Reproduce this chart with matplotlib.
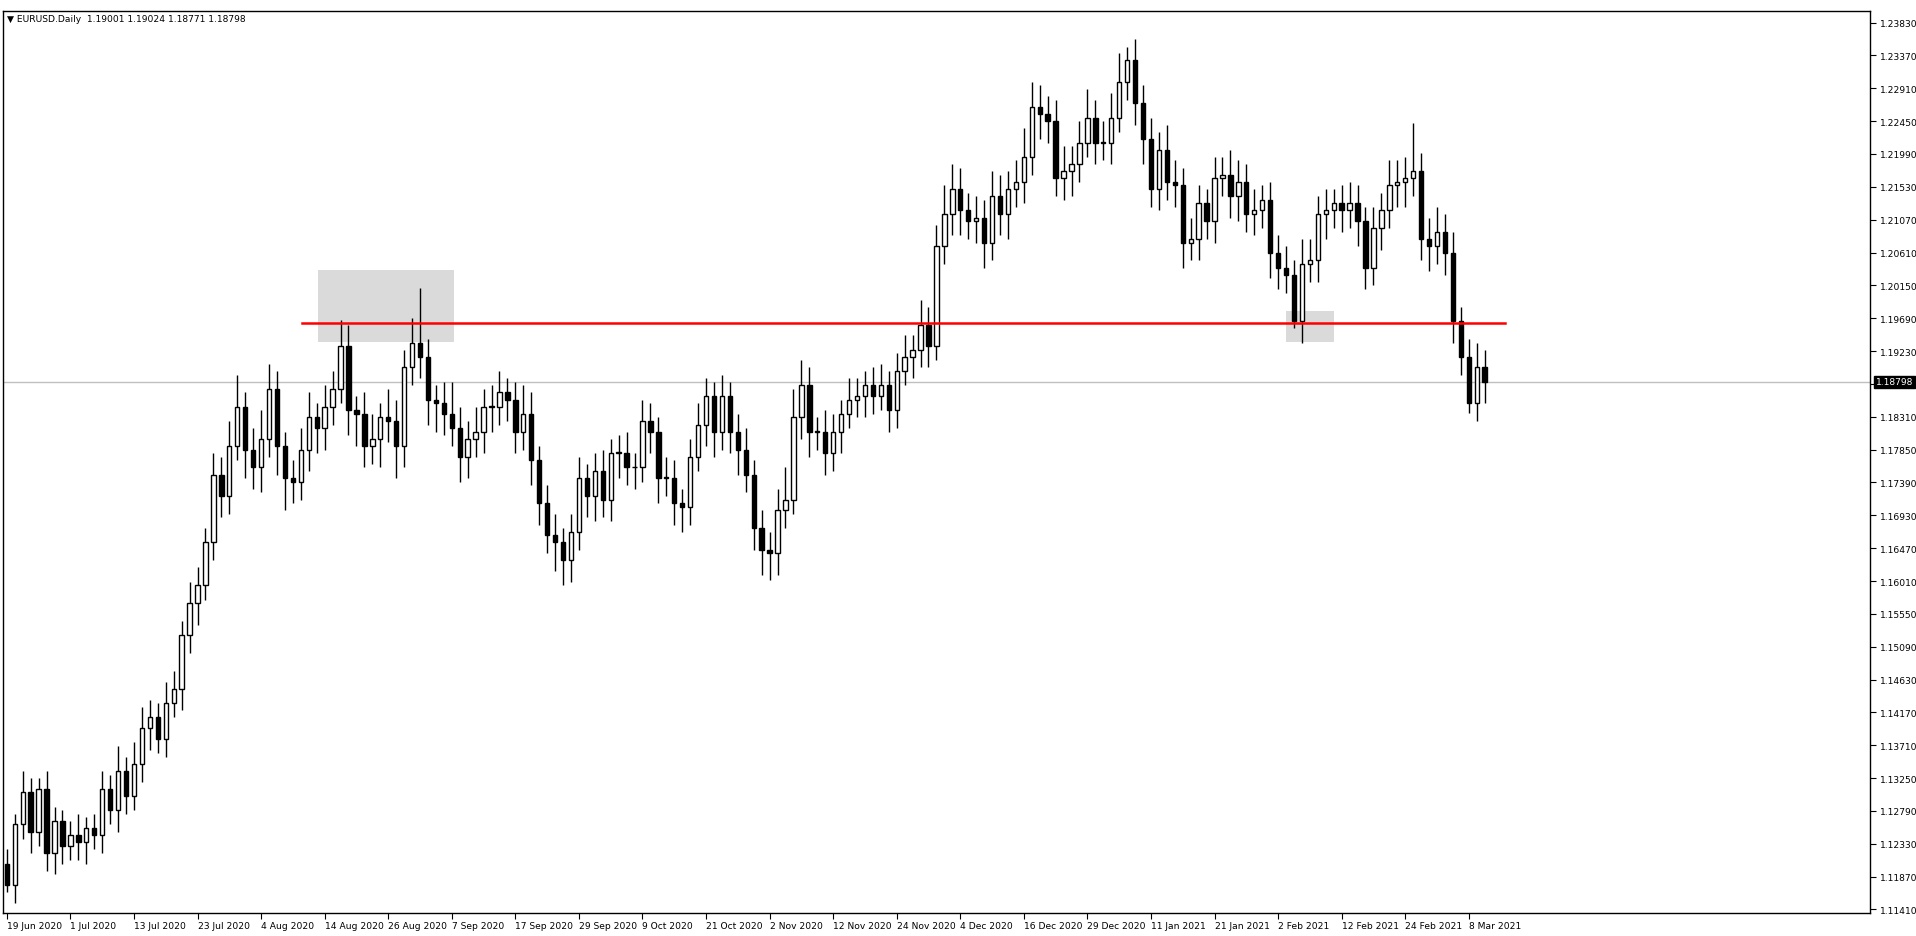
import numpy as np
import matplotlib
matplotlib.use("Agg")
import matplotlib.pyplot as plt
from matplotlib.patches import Rectangle

# daily closes, EURUSD, 19 Jun 2020 .. 10 Mar 2021
closes = [
    1.1175, 1.1260, 1.1305, 1.1250, 1.1310, 1.1220, 1.1265, 1.1230,
    1.1245, 1.1235, 1.1255, 1.1245, 1.1310, 1.1280, 1.1335, 1.1300,
    1.1345, 1.1395, 1.1410, 1.1380, 1.1430, 1.1450, 1.1525, 1.1570,
    1.1595, 1.1655, 1.1750, 1.1720, 1.1790, 1.1845, 1.1785, 1.1760,
    1.1800, 1.1870, 1.1790, 1.1745, 1.1740, 1.1785, 1.1830, 1.1815,
    1.1845, 1.1870, 1.1930, 1.1840, 1.1835, 1.1790, 1.1800, 1.1830,
    1.1825, 1.1790, 1.1900, 1.1935, 1.1915, 1.1855, 1.1850, 1.1835,
    1.1815, 1.1775, 1.1800, 1.1810, 1.1845, 1.1845, 1.1865, 1.1855,
    1.1810, 1.1835, 1.1770, 1.1710, 1.1665, 1.1655, 1.1630, 1.1670,
    1.1745, 1.1720, 1.1755, 1.1715, 1.1780, 1.1780, 1.1760, 1.1760,
    1.1825, 1.1810, 1.1745, 1.1745, 1.1710, 1.1705, 1.1775, 1.1820,
    1.1860, 1.1810, 1.1860, 1.1810, 1.1785, 1.1750, 1.1675, 1.1645,
    1.1640, 1.1700, 1.1715, 1.1830, 1.1875, 1.1810, 1.1810, 1.1780,
    1.1810, 1.1835, 1.1855, 1.1860, 1.1875, 1.1860, 1.1875, 1.1840,
    1.1895, 1.1915, 1.1925, 1.1960, 1.1930, 1.2070, 1.2115, 1.2150,
    1.2120, 1.2105, 1.2110, 1.2075, 1.2140, 1.2115, 1.2150, 1.2160,
    1.2195, 1.2265, 1.2255, 1.2245, 1.2165, 1.2175, 1.2185, 1.2215,
    1.2250, 1.2215, 1.2215, 1.2250, 1.2300, 1.2330, 1.2270, 1.2220,
    1.2150, 1.2205, 1.2160, 1.2155, 1.2075, 1.2080, 1.2130, 1.2105,
    1.2165, 1.2170, 1.2140, 1.2160, 1.2115, 1.2120, 1.2135, 1.2060,
    1.2040, 1.2030, 1.1965, 1.2045, 1.2050, 1.2115, 1.2120, 1.2130,
    1.2120, 1.2130, 1.2105, 1.2040, 1.2095, 1.2120, 1.2155, 1.2160,
    1.2165, 1.2175, 1.2080, 1.2070, 1.2090, 1.2060, 1.1965, 1.1915,
    1.1850, 1.1900, 1.1880,
]
first_open = 1.1205
# wick lengths in pips (0.0001) above / below the body
up_wick = [
    20, 15, 30, 20, 15, 25, 20, 15, 20, 30, 15, 20, 25, 20, 35, 20,
    30, 30, 25, 20, 30, 25, 20, 30, 25, 20, 30, 25, 35, 45, 20, 30,
    40, 35, 25, 20, 25, 30, 35, 20, 30, 25, 36, 30, 20, 30, 35, 20,
    40, 30, 25, 35, 76, 25, 20, 30, 45, 30, 25, 35, 25, 30, 30, 20,
    25, 40, 30, 20, 25, 30, 20, 25, 30, 20, 25, 30, 20, 25, 30, 20,
    30, 25, 20, 30, 25, 20, 25, 30, 25, 20, 30, 20, 25, 30, 20, 25,
    25, 30, 45, 40, 35, 25, 20, 30, 25, 20, 30, 25, 20, 25, 30, 20,
    25, 30, 20, 35, 25, 30, 40, 35, 30, 25, 30, 25, 35, 30, 25, 30,
    40, 35, 30, 25, 30, 35, 25, 30, 40, 25, 30, 35, 40, 19, 30, 25,
    30, 25, 35, 30, 25, 30, 25, 20, 30, 25, 35, 30, 25, 30, 20, 25,
    25, 30, 20, 35, 30, 25, 30, 20, 25, 30, 25, 20, 30, 25, 35, 30,
    30, 68, 25, 30, 35, 25, 30, 20, 25, 35, 25,
]
dn_wick = [
    10, 25, 20, 30, 20, 25, 30, 25, 20, 25, 30, 20, 25, 20, 30, 25,
    20, 25, 30, 20, 25, 20, 30, 25, 30, 20, 25, 30, 25, 20, 40, 30,
    35, 25, 40, 45, 30, 25, 30, 35, 30, 25, 20, 35, 45, 30, 25, 40,
    30, 45, 30, 25, 30, 35, 40, 30, 25, 35, 30, 25, 30, 35, 25, 30,
    30, 25, 35, 30, 25, 40, 35, 30, 25, 30, 35, 25, 30, 35, 25, 30,
    20, 30, 35, 25, 30, 35, 25, 20, 30, 35, 25, 30, 35, 25, 30, 35,
    37, 30, 25, 20, 30, 35, 25, 30, 25, 30, 20, 25, 30, 25, 20, 30,
    25, 20, 30, 25, 30, 20, 25, 30, 35, 25, 30, 35, 25, 30, 35, 25,
    30, 25, 35, 30, 25, 30, 35, 25, 20, 30, 25, 30, 20, 25, 30, 35,
    25, 30, 25, 30, 35, 25, 30, 25, 30, 25, 30, 35, 25, 30, 25, 35,
    30, 25, 10, 30, 25, 30, 35, 25, 30, 25, 35, 30, 25, 30, 25, 30,
    35, 25, 30, 35, 25, 30, 30, 25, 14, 25, 30,
]
date_labels = ["19 Jun 2020", "1 Jul 2020", "13 Jul 2020", "23 Jul 2020", "4 Aug 2020",
               "14 Aug 2020", "26 Aug 2020", "7 Sep 2020", "17 Sep 2020", "29 Sep 2020",
               "9 Oct 2020", "21 Oct 2020", "2 Nov 2020", "12 Nov 2020", "24 Nov 2020",
               "4 Dec 2020", "16 Dec 2020", "29 Dec 2020", "11 Jan 2021", "21 Jan 2021",
               "2 Feb 2021", "12 Feb 2021", "24 Feb 2021", "8 Mar 2021"]
price_ticks = [1.23830 - 0.0046 * k for k in range(28)]
level = 1.1962
last_price = 1.18798

closes = np.array(closes)
opens = np.concatenate([[first_open], closes[:-1]])
highs = np.maximum(opens, closes) + np.array(up_wick) * 1e-4
lows = np.minimum(opens, closes) - np.array(dn_wick) * 1e-4
idx = np.arange(len(closes))

FS = 6.6
fig = plt.figure(figsize=(19.16, 9.37), dpi=100)
ax = fig.add_axes([0.0015, 0.0245, 0.9745, 0.9625])
ax.set_xlim(-0.5, 234.5)
ax.set_ylim(1.1136, 1.2399)

# zones
ax.add_patch(Rectangle((39.2, 1.1936), 17.1, 0.0100, color="#dadada", lw=0, zorder=1))
ax.add_patch(Rectangle((161.0, 1.1936), 6.0, 0.0043, color="#dadada", lw=0, zorder=1))
ax.axhline(last_price, color="#c0c0c0", lw=1.0, zorder=1)

w = 0.55
for i in idx:
    o, c, h, l = opens[i], closes[i], highs[i], lows[i]
    ax.vlines(i, l, h, color="black", lw=1.0, zorder=3)
    bull = c >= o
    ax.add_patch(Rectangle((i - w / 2, min(o, c)), w, max(abs(c - o), 0.00012),
                           facecolor="white" if bull else "black",
                           edgecolor="black", lw=1.0, zorder=4))

ax.plot([37.2, 188.5], [level, level], color="#ff0000", lw=1.8, zorder=5)

ax.yaxis.tick_right()
ax.set_yticks(price_ticks)
ax.set_yticklabels([f"{p:.5f}" for p in price_ticks], fontsize=FS)
ax.tick_params(axis="y", length=4, pad=3)
ax.set_xticks(np.arange(len(date_labels)) * 8)
ax.set_xticklabels(date_labels, fontsize=FS, ha="left")
ax.tick_params(axis="x", length=4, pad=2)
for s in ax.spines.values():
    s.set_linewidth(1.0)

ax.text(1.003, last_price, f"{last_price:.5f}", transform=ax.get_yaxis_transform(),
        fontsize=FS, color="white", va="center", ha="left", zorder=10,
        bbox=dict(boxstyle="square,pad=0.2", fc="black", ec="black"))
ax.text(0.002, 0.997, "\u25bc EURUSD.Daily  1.19001 1.19024 1.18771 1.18798",
        transform=ax.transAxes, fontsize=FS, va="top", ha="left")

fig.savefig("out.png", dpi=100)
